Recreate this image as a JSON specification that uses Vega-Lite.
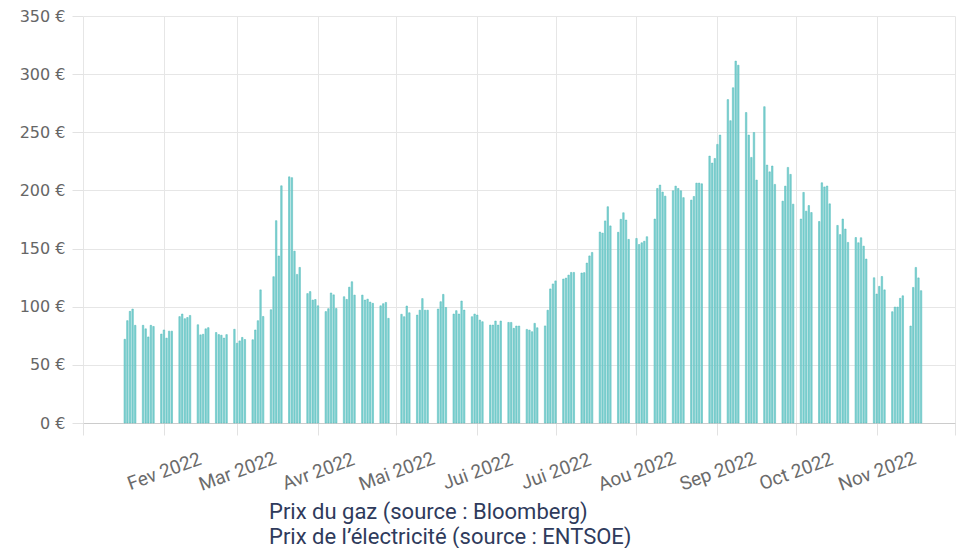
{
  "$schema": "https://vega.github.io/schema/vega-lite/v6.json",
  "width": 872,
  "height": 407,
  "autosize": "none",
  "padding": {"left": 83, "top": 16, "right": 3, "bottom": 125},
  "background": "white",
  "config": {"view": {"stroke": null}},
  "data": {"values": [
    {"d":"2022-01-17","v":72},{"d":"2022-01-18","v":88},{"d":"2022-01-19","v":96},{"d":"2022-01-20","v":98},{"d":"2022-01-21","v":84},
    {"d":"2022-01-24","v":84},{"d":"2022-01-25","v":81},{"d":"2022-01-26","v":74},{"d":"2022-01-27","v":84},{"d":"2022-01-28","v":83},
    {"d":"2022-01-31","v":76.5},{"d":"2022-02-01","v":80},{"d":"2022-02-02","v":73},{"d":"2022-02-03","v":79},{"d":"2022-02-04","v":79},
    {"d":"2022-02-07","v":91.5},{"d":"2022-02-08","v":93.7},{"d":"2022-02-09","v":89.7},{"d":"2022-02-10","v":90.7},{"d":"2022-02-11","v":92.5},
    {"d":"2022-02-14","v":84.5},{"d":"2022-02-15","v":75.8},{"d":"2022-02-16","v":76.3},{"d":"2022-02-17","v":81},{"d":"2022-02-18","v":82},
    {"d":"2022-02-21","v":77.8},{"d":"2022-02-22","v":76},{"d":"2022-02-23","v":75.5},{"d":"2022-02-24","v":73},{"d":"2022-02-25","v":76},
    {"d":"2022-02-28","v":80.6},{"d":"2022-03-01","v":68.6},{"d":"2022-03-02","v":70.6},{"d":"2022-03-03","v":73.6},{"d":"2022-03-04","v":71.8},
    {"d":"2022-03-07","v":71.6},{"d":"2022-03-08","v":80},{"d":"2022-03-09","v":88},{"d":"2022-03-10","v":114.5},{"d":"2022-03-11","v":91.6},
    {"d":"2022-03-14","v":97.4},{"d":"2022-03-15","v":125.8},{"d":"2022-03-16","v":174},{"d":"2022-03-17","v":143.6},{"d":"2022-03-18","v":204},
    {"d":"2022-03-21","v":211.7},{"d":"2022-03-22","v":211},{"d":"2022-03-23","v":147.8},{"d":"2022-03-24","v":127.8},{"d":"2022-03-25","v":133.8},
    {"d":"2022-03-28","v":111.3},{"d":"2022-03-29","v":113},{"d":"2022-03-30","v":105.7},{"d":"2022-03-31","v":106.2},{"d":"2022-04-01","v":100.8},
    {"d":"2022-04-04","v":95.8},{"d":"2022-04-05","v":98.3},{"d":"2022-04-06","v":111.8},{"d":"2022-04-07","v":110.2},{"d":"2022-04-08","v":98.5},
    {"d":"2022-04-11","v":108.6},{"d":"2022-04-12","v":106.3},{"d":"2022-04-13","v":116.8},{"d":"2022-04-14","v":121.5},{"d":"2022-04-15","v":110},
    {"d":"2022-04-18","v":110},{"d":"2022-04-19","v":105.7},{"d":"2022-04-20","v":106.5},{"d":"2022-04-21","v":104},{"d":"2022-04-22","v":102.9},
    {"d":"2022-04-25","v":100.8},{"d":"2022-04-26","v":102.6},{"d":"2022-04-27","v":103.7},{"d":"2022-04-28","v":90},
    {"d":"2022-05-03","v":93.5},{"d":"2022-05-04","v":91.4},{"d":"2022-05-05","v":100.6},{"d":"2022-05-06","v":94.8},
    {"d":"2022-05-09","v":92.8},{"d":"2022-05-10","v":97},{"d":"2022-05-11","v":107},{"d":"2022-05-12","v":97},{"d":"2022-05-13","v":97},
    {"d":"2022-05-17","v":98},{"d":"2022-05-18","v":104.3},{"d":"2022-05-19","v":110.6},{"d":"2022-05-20","v":99.3},
    {"d":"2022-05-23","v":93.7},{"d":"2022-05-24","v":96.6},{"d":"2022-05-25","v":93.7},{"d":"2022-05-26","v":104.9},{"d":"2022-05-27","v":97.1},
    {"d":"2022-05-30","v":91.4},{"d":"2022-05-31","v":93.7},{"d":"2022-06-01","v":92.8},{"d":"2022-06-02","v":88.5},{"d":"2022-06-03","v":87.1},
    {"d":"2022-06-06","v":84.2},{"d":"2022-06-07","v":84.2},{"d":"2022-06-08","v":87.7},{"d":"2022-06-09","v":84.2},{"d":"2022-06-10","v":87.7},
    {"d":"2022-06-13","v":86.5},{"d":"2022-06-14","v":86.5},{"d":"2022-06-15","v":81.4},{"d":"2022-06-16","v":83.4},{"d":"2022-06-17","v":83.4},
    {"d":"2022-06-20","v":80.5},{"d":"2022-06-21","v":79.9},{"d":"2022-06-22","v":78.5},{"d":"2022-06-23","v":85.7},{"d":"2022-06-24","v":81.9},
    {"d":"2022-06-27","v":83.5},{"d":"2022-06-28","v":97},{"d":"2022-06-29","v":115.3},{"d":"2022-06-30","v":119.6},{"d":"2022-07-01","v":122.2},
    {"d":"2022-07-04","v":123.8},{"d":"2022-07-05","v":124.6},{"d":"2022-07-06","v":127.2},{"d":"2022-07-07","v":129.5},{"d":"2022-07-08","v":129.5},
    {"d":"2022-07-11","v":129},{"d":"2022-07-12","v":129.3},{"d":"2022-07-13","v":137.5},{"d":"2022-07-14","v":143.7},{"d":"2022-07-15","v":146.7},
    {"d":"2022-07-18","v":164.2},{"d":"2022-07-19","v":163.3},{"d":"2022-07-20","v":173.8},{"d":"2022-07-21","v":186},{"d":"2022-07-22","v":169.5},
    {"d":"2022-07-25","v":164},{"d":"2022-07-26","v":175.2},{"d":"2022-07-27","v":180.8},{"d":"2022-07-28","v":174.5},{"d":"2022-07-29","v":157.9},
    {"d":"2022-08-01","v":158.7},{"d":"2022-08-02","v":153.5},{"d":"2022-08-03","v":155},{"d":"2022-08-04","v":156.3},{"d":"2022-08-05","v":160.2},
    {"d":"2022-08-08","v":175.4},{"d":"2022-08-09","v":201.7},{"d":"2022-08-10","v":204.6},{"d":"2022-08-11","v":198.6},{"d":"2022-08-12","v":195.1},
    {"d":"2022-08-15","v":199.7},{"d":"2022-08-16","v":203.7},{"d":"2022-08-17","v":201.7},{"d":"2022-08-18","v":199.7},{"d":"2022-08-19","v":193.8},
    {"d":"2022-08-22","v":191.7},{"d":"2022-08-23","v":194.8},{"d":"2022-08-24","v":206.3},{"d":"2022-08-25","v":206.3},{"d":"2022-08-26","v":205.7},
    {"d":"2022-08-29","v":229.5},{"d":"2022-08-30","v":223.5},{"d":"2022-08-31","v":227.5},{"d":"2022-09-01","v":239.6},{"d":"2022-09-02","v":247.6},
    {"d":"2022-09-05","v":278.1},{"d":"2022-09-06","v":260},{"d":"2022-09-07","v":288.3},{"d":"2022-09-08","v":311.2},{"d":"2022-09-09","v":307.7},
    {"d":"2022-09-12","v":267},{"d":"2022-09-13","v":247.6},{"d":"2022-09-14","v":228.4},{"d":"2022-09-15","v":249.8},{"d":"2022-09-16","v":208.9},
    {"d":"2022-09-19","v":272},{"d":"2022-09-20","v":221.8},{"d":"2022-09-21","v":216},{"d":"2022-09-22","v":221},{"d":"2022-09-23","v":205.2},
    {"d":"2022-09-26","v":190.8},{"d":"2022-09-27","v":203.7},{"d":"2022-09-28","v":219.8},{"d":"2022-09-29","v":213.8},{"d":"2022-09-30","v":188.2},
    {"d":"2022-10-03","v":175.4},{"d":"2022-10-04","v":198.3},{"d":"2022-10-05","v":182.2},{"d":"2022-10-06","v":187},{"d":"2022-10-07","v":181},
    {"d":"2022-10-10","v":173.3},{"d":"2022-10-11","v":206.6},{"d":"2022-10-12","v":203},{"d":"2022-10-13","v":203.8},{"d":"2022-10-14","v":188.5},
    {"d":"2022-10-17","v":169.9},{"d":"2022-10-18","v":162},{"d":"2022-10-19","v":175.4},{"d":"2022-10-20","v":166.8},{"d":"2022-10-21","v":155.3},
    {"d":"2022-10-24","v":159.5},{"d":"2022-10-25","v":155},{"d":"2022-10-26","v":159.3},{"d":"2022-10-27","v":152.1},{"d":"2022-10-28","v":141},
    {"d":"2022-10-31","v":124.9},{"d":"2022-11-01","v":110.9},{"d":"2022-11-02","v":117.5},{"d":"2022-11-03","v":126},{"d":"2022-11-04","v":114.5},
    {"d":"2022-11-07","v":95.7},{"d":"2022-11-08","v":99.7},{"d":"2022-11-09","v":99.7},{"d":"2022-11-10","v":107.2},{"d":"2022-11-11","v":109.4},
    {"d":"2022-11-14","v":83.4},{"d":"2022-11-15","v":116.6},{"d":"2022-11-16","v":133.8},{"d":"2022-11-17","v":124.8},{"d":"2022-11-18","v":113.8}
  ]},
  "transform": [{"calculate": "'Prix du gaz (source : Bloomberg)'", "as": "s"}],
  "mark": {"type": "bar", "size": 1.5, "stroke": "#4fb9b9", "strokeWidth": 0.5},
  "encoding": {
    "x": {
      "field": "d", "type": "temporal",
      "scale": {"type": "utc", "padding": 0, "domain": [{"year": 2022, "month": 1, "date": 1, "utc": true}, {"year": 2022, "month": 12, "date": 1, "utc": true}]},
      "axis": {
        "title": null,
        "tickCount": {"interval": "month", "step": 1},
        "labelExpr": "(utcmonth(datum.value) == 0 || utcmonth(datum.value) == 11) ? '' : ['Jan','Fev','Mar','Avr','Mai','Jui','Jui','Aou','Sep','Oct','Nov','Dec'][utcmonth(datum.value)] + ' ' + utcyear(datum.value)",
        "labelAngle": -20, "labelAlign": "center", "labelBaseline": "middle",
        "labelPadding": 36, "labelFontSize": 19, "labelFont": "Roboto", "labelColor": "#6b6b6b",
        "labelOverlap": false, "labelFlush": false, "labelBound": false,
        "tickSize": 12, "tickColor": "#e2e2e2", "domainColor": "#cccccc",
        "grid": true, "gridColor": "#e6e6e6"
      }
    },
    "y": {
      "field": "v", "type": "quantitative",
      "scale": {"domain": [0, 350], "nice": false},
      "axis": {
        "title": null, "values": [0, 50, 100, 150, 200, 250, 300, 350],
        "labelExpr": "datum.value + ' €'",
        "labelFont": "DejaVu Sans", "labelFontSize": 16, "labelColor": "#666666",
        "labelPadding": 7, "tickSize": 11, "tickColor": "#e2e2e2",
        "domain": false, "grid": true, "gridColor": "#e6e6e6"
      }
    },
    "color": {
      "field": "s", "type": "nominal",
      "scale": {"domain": ["Prix du gaz (source : Bloomberg)", "Prix de l’électricité (source : ENTSOE)"], "range": ["#80d2d2", "#80d2d2"]},
      "legend": {
        "title": null, "orient": "none", "legendX": 164, "legendY": 485,
        "direction": "vertical", "symbolSize": 0, "symbolOpacity": 0, "symbolStrokeWidth": 0,
        "labelOffset": 0, "padding": 0, "rowPadding": 3,
        "labelFont": "Roboto", "labelFontSize": 22, "labelColor": "#2f3b5c", "labelLimit": 600
      }
    }
  }
}
